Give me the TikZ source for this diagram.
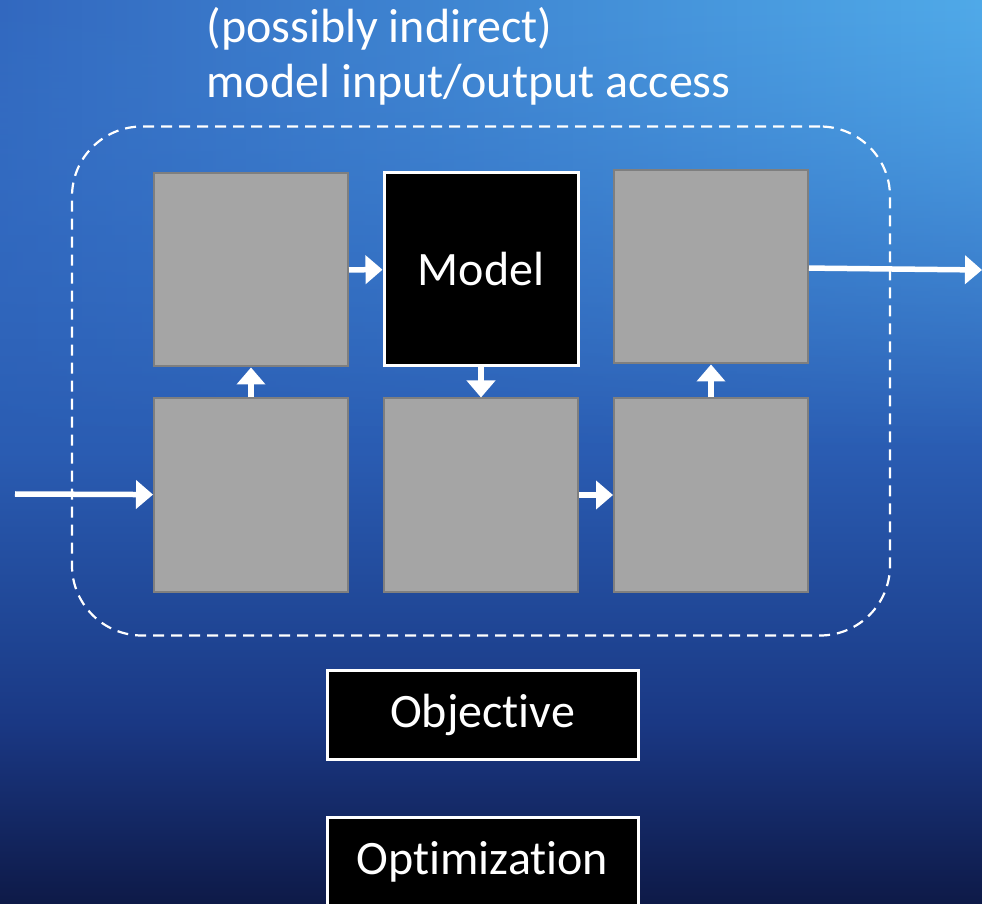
\documentclass[tikz,border=0pt]{standalone}
\usepackage{fontspec}
\setmainfont[Ligatures={NoCommon,NoRare}]{Carlito}
\usetikzlibrary{arrows.meta,positioning,fit,fadings}
\definecolor{bgtop}{HTML}{3C7FD0}
\definecolor{bgupper}{HTML}{3169BF}
\definecolor{bgmid}{HTML}{2A5CB2}
\definecolor{bglow}{HTML}{1F4594}
\definecolor{bgdeep}{HTML}{1A3884}
\definecolor{bgbot}{HTML}{0E1A48}
\definecolor{glowl}{HTML}{3268BF}
\definecolor{glowr}{HTML}{50AAE9}
\definecolor{boxgray}{HTML}{A5A5A5}
\definecolor{edgegray}{HTML}{7F7F7F}
\pgfdeclareverticalshading{slidebg}{100bp}{color(0bp)=(bgbot); color(25bp)=(bgbot);
    color(35bp)=(bgdeep); color(40bp)=(bglow); color(50bp)=(bgmid);
    color(62.5bp)=(bgupper); color(75bp)=(bgtop); color(100bp)=(bgtop)}
\tikzfading[name=fade down, top color=transparent!0, bottom color=transparent!100]

\begin{document}
\begin{tikzpicture}[
            x=1pt, y=1pt,
            font=\fontsize{48}{56}\selectfont,
            gbox/.style={
                    draw=edgegray, fill=boxgray, line width=2pt,
                    minimum width=194pt, minimum height=193pt, inner sep=0pt
                },
            blackbox/.style={
                    draw=white, fill=black, line width=3pt, text=white,
                    minimum width=194pt, minimum height=193pt, inner sep=0pt
                },
            labelbox/.style={
                    draw=white, fill=black, line width=3pt, text=white,
                    minimum width=311pt, minimum height=89pt, inner sep=0pt
                },
            frame/.style={
                    draw=white, line width=2.2pt, dash pattern=on 11pt off 7pt,
                    rounded corners=70pt
                },
            arr/.style={-{Triangle[width=28pt,length=17pt]}, line width=5.5pt, white}
            ]
            \useasboundingbox (0,0) rectangle (982,903);
            \shade[shading=slidebg] (0,0) rectangle (982,903);
            \shade[left color=glowl, right color=glowr, path fading=fade down] (0,453) rectangle (982,903);

            \node[anchor=base west, text=white] (title1) at (203,860) {(possibly indirect)};
            \node[anchor=base west, text=white] (title2) at (203,805) {model input/output access};

            \node[gbox] (lowleft) at (251,408) {};
            \node[gbox, right=34pt of lowleft] (lowmid) {};
            \node[gbox, right=34pt of lowmid] (lowright) {};
            \node[gbox, above=30pt of lowleft] (upleft) {};
            \node[blackbox, above=30pt of lowmid] (model) {Model};
            \node[gbox, above=33pt of lowright] (upright) {};

            \node[frame, fit=(lowleft)(upright), inner xsep=81pt, inner ysep=43pt] (access) {};

            \node[labelbox] (objective) at (482.5,188.5) {Objective};
            \node[labelbox, below=55pt of objective] (optim) {Optimization};

            \coordinate (in) at (15,409);
            \coordinate (out) at (982,633);
            \draw[arr] (in) -- (lowleft);
            \draw[arr] (lowleft) -- (upleft);
            \draw[arr] (upleft) -- (model);
            \draw[arr] (model) -- (lowmid);
            \draw[arr] (lowmid) -- (lowright);
            \draw[arr] (lowright) -- (upright);
            \draw[arr] (upright) -- (out);
        \end{tikzpicture}
\end{document}
